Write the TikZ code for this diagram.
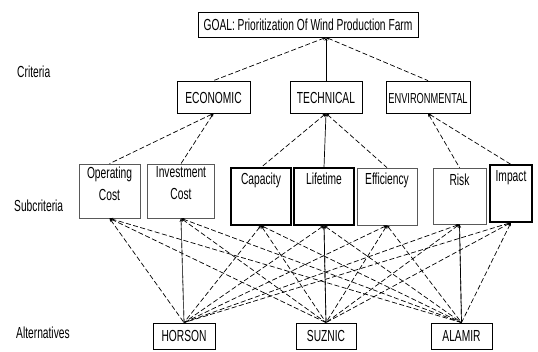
\documentclass[tikz,border=0pt]{standalone}
\usepackage{fontspec}
\setmainfont{Liberation Sans}[FakeStretch=0.64]
\usetikzlibrary{arrows.meta}
\begin{document}
\begin{tikzpicture}[x=1pt,y=-1pt,
  font=\fontsize{16}{21}\selectfont,
  every label/.style={font=\fontsize{16}{22}\selectfont},
  box/.style={draw, inner sep=0pt, line width=0.8pt},
  lightbox/.style={draw=black!65, inner sep=0pt, line width=0.7pt},
  darkbox/.style={draw, inner sep=0pt, line width=1.1pt},
  toplabel/.style={anchor=north, align=center, yshift=-3pt, inner sep=0pt},
  dline/.style={dash pattern=on 5pt off 2.5pt, line width=0.7pt},
  sline/.style={line width=0.7pt},
  tipup/.style={{Stealth[length=3.5pt,width=3pt]}-}
]
\useasboundingbox (0,0) rectangle (538,352);

% level labels
\node[anchor=west, inner sep=0pt] (lcrit) at (17,72) {Criteria};
\node[anchor=west, inner sep=0pt] (lsub) at (14,206) {Subcriteria};
\node[anchor=west, inner sep=0pt] (lalt) at (16,333) {Alternatives};

% goal
\node[box, minimum width=220, minimum height=25] (goal) at (308,24.5) {GOAL: Prioritization Of Wind Production Farm};

% criteria
\node[box, minimum width=73, minimum height=32, text height=13pt] (eco) at (213.5,97) {ECONOMIC};
\node[box, minimum width=72, minimum height=32, text height=13pt] (tech) at (326,97) {TECHNICAL};
\node[box, minimum width=84, minimum height=32, text height=13pt,
  font=\fontsize{14.5}{18}\selectfont] (env) at (428,97) {ENVIRONMENTAL};

% subcriteria
\node[lightbox, minimum width=61, minimum height=54,
  label={[toplabel]north:Operating\\Cost}] (op) at (109.5,191) {};
\node[lightbox, minimum width=67, minimum height=54,
  label={[toplabel]north:Investment\\Cost}] (inv) at (181,191) {};
\node[darkbox, minimum width=60, minimum height=57,
  label={[toplabel, yshift=-2pt]north:Capacity}] (cap) at (261,196.5) {};
\node[darkbox, minimum width=60, minimum height=57,
  label={[toplabel, yshift=-2pt]north:Lifetime}] (life) at (324,196.5) {};
\node[lightbox, minimum width=60, minimum height=57,
  label={[toplabel, yshift=-2pt]north:Efficiency}] (eff) at (387,196.5) {};
\node[lightbox, minimum width=53, minimum height=56,
  label={[toplabel, yshift=-3pt]north:Risk}] (risk) at (459.5,196) {};
\node[darkbox, minimum width=42, minimum height=57,
  label={[toplabel, yshift=-3pt]north:Impact}] (imp) at (511,193.5) {};

% alternatives
\node[box, minimum width=62, minimum height=26] (a1) at (184,336) {HORSON};
\node[box, minimum width=60, minimum height=26] (a2) at (326,336) {SUZNIC};
\node[box, minimum width=61, minimum height=26] (a3) at (461.5,336) {ALAMIR};

% goal -> criteria
\coordinate (gs) at (goal.south -| tech.north);
\draw[dline, tipup] (gs) -- (eco.north);
\draw[sline, tipup] (gs) -- (tech.north);
\draw[dline, tipup] (gs) -- (env.north);

% criteria -> subcriteria
\draw[dline, tipup] (eco.south) -- (op.north);
\draw[dline, tipup] (eco.south) -- (inv.north);
\draw[dline, tipup] (tech.south) -- (cap.north);
\draw[sline, tipup] (tech.south) -- (life.north);
\draw[dline, tipup] (tech.south) -- (eff.north);
\draw[dline, tipup] (env.south) -- (risk.north);
\draw[dline, tipup] (env.south) -- (imp.north);

% subcriteria -> alternatives
\foreach \s in {op,inv,cap,life,eff,risk,imp}{
  \foreach \a in {a1,a2,a3}{
    \draw[dline, tipup] (\s.south) -- (\a.north);
  }
}
\draw[sline, black!70] (inv.south) -- (a1.north);
\draw[sline] (life.south) -- (a2.north);
\draw[sline] (risk.south) -- (a3.north);
\end{tikzpicture}
\end{document}
